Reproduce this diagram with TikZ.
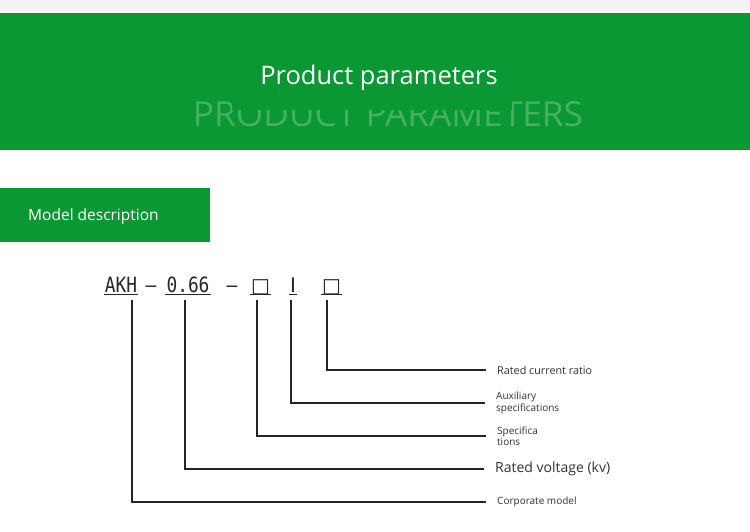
\documentclass[tikz,border=0pt]{standalone}
\usepackage{fontspec}
\setmainfont{Open Sans}
\newfontfamily\codefont[FakeStretch=0.85]{DejaVu Sans Mono}
\newfontfamily\symfont{DejaVu Sans}
\usepackage{graphicx}
\usetikzlibrary{positioning,calc}
\definecolor{BandGreen}{RGB}{10,152,52}
\definecolor{MarkGreen}{RGB}{72,176,98}
\definecolor{TopGray}{RGB}{243,243,243}
\definecolor{LabelGray}{RGB}{51,51,51}
\tikzset{
  part/.style={inner sep=0pt,anchor=base,text=black!85,
    font=\codefont\fontsize{21}{21}\selectfont},
  glyph/.style={part,font=\symfont\fontsize{20}{20}\selectfont},
  tag/.style={inner sep=0pt,anchor=west,align=left,text=LabelGray,
    font=\fontsize{10}{12}\selectfont},
  uline/.style={draw=black!85,line width=1.4pt},
  link/.style={draw=black!85,line width=1.4pt,shorten >=11pt},
}

\begin{document}
\begin{tikzpicture}[x=1pt,y=-1pt]
\useasboundingbox (0,0) rectangle (750,532);
\fill[white] (0,0) rectangle (750,532);
\fill[TopGray] (0,0) rectangle (750,13);
% heading band
\fill[BandGreen] (0,13) rectangle (750,150);
\node[inner sep=0pt,text=MarkGreen] (mark) at (388,114)
  {\resizebox{390pt}{25pt}{PRODUCT PARAMETERS}};
\fill[BandGreen] (232,97) rectangle (512,110);
\node[inner sep=0pt,anchor=base,text=white,font=\fontsize{25.5}{30}\selectfont]
  (title) at (379,84.5) {Product parameters};
% section tab
\fill[BandGreen] (0,188) rectangle (210,242);
\node[inner sep=0pt,anchor=west,text=white,font=\fontsize{15.5}{18}\selectfont]
  (model) at (28,216.5) {Model description};
% model code
\node[part] (akh) at (121,292) {AKH};
\node[part] (dash1) at (151,292) {–};
\node[part] (volt) at (188,292) {0.66};
\node[part] (dash2) at (232,292) {–};
\node[glyph] (spec) at (260.5,292) {□};
\node[glyph] (aux) at (293,292) {I};
\node[glyph] (ratio) at (331.5,292) {□};
\foreach \p in {akh,volt,spec,aux,ratio}
  \draw[uline] ([xshift=-1pt,yshift=-2.5pt]\p.base west) -- ([xshift=1pt,yshift=-2.5pt]\p.base east);
% labels
\node[tag,font=\fontsize{10.8}{12}\selectfont] (rate) at (497,370) {Rated current ratio};
\node[tag,font=\fontsize{10}{12}\selectfont] (auxl) at (496,403) {Auxiliary\\specifications};
\node[tag,font=\fontsize{10}{11}\selectfont] (specl) at (497,436) {Specifica\\tions};
\node[tag,font=\fontsize{14}{16}\selectfont] (voltl) at (495,469) {Rated voltage (kv)};
\node[tag] (corp) at (497,502) {Corporate model};
% leaders
\draw[link] ([xshift=-4.5pt,yshift=-8pt]ratio.base) |- (rate.west);
\draw[link] ([xshift=-2pt,yshift=-8pt]aux.base) |- (auxl.west);
\draw[link] ([xshift=-3.5pt,yshift=-8pt]spec.base) |- (specl.west);
\draw[link] ([xshift=-3pt,yshift=-8pt]volt.base) |- (voltl.west);
\draw[link] ([xshift=11pt,yshift=-8pt]akh.base) |- (corp.west);
\end{tikzpicture}
\end{document}
